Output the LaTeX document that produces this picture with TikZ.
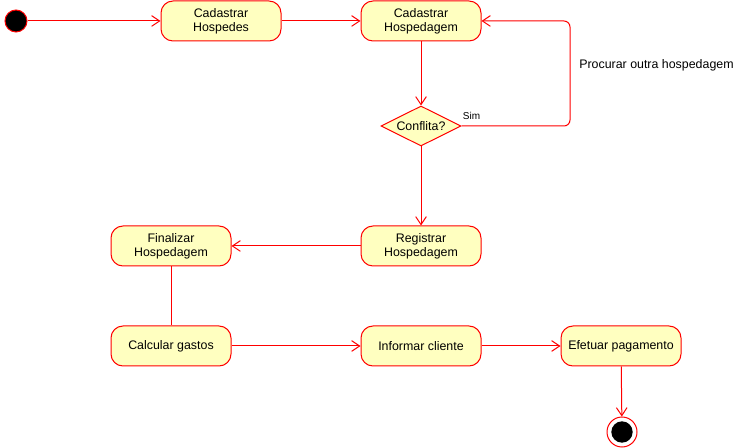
\documentclass[tikz,border=0pt]{standalone}
\usepackage{fontspec}
\setmainfont{Liberation Sans}
\usepackage{tikz}
\usetikzlibrary{positioning}
\usetikzlibrary{calc,arrows.meta,shapes.geometric}
\definecolor{ActFill}{HTML}{FFFFC0}
\definecolor{ActLine}{HTML}{FF0000}

\begin{document}
\begin{tikzpicture}[x=0.75pt,y=-0.75pt,
	activity/.style={draw=ActLine, fill=ActFill, line width=0.75pt, rounded corners=9pt,
		minimum width=90pt, minimum height=30pt, inner sep=0pt, align=center,
		font=\fontsize{9.3}{10.7}\selectfont},
	decision/.style={draw=ActLine, fill=ActFill, line width=0.75pt, diamond,
		minimum width=60pt, minimum height=30pt, inner sep=0pt, aspect=2,
		font=\fontsize{9.3}{10.7}\selectfont},
	flow/.style={draw=ActLine, line width=0.75pt, -{Straight Barb[length=6pt,width=8pt]}},
	link/.style={draw=ActLine, line width=0.75pt},
	]
	
	% page size of the reference, in pixels
	\useasboundingbox (0,0) rectangle (749,448);
	
	% start and end states
	\node[circle, draw=ActLine, fill=black, line width=0.75pt, minimum size=16.5pt, inner sep=0pt] (Start) at (16,21) {};
	\node[circle, draw=ActLine, fill=white, line width=0.75pt, minimum size=22.5pt, inner sep=0pt] (End) at (622,432) {};
	\node[circle, fill=black, minimum size=16pt, inner sep=0pt] (EndDot) at (End) {};
	
	% activities: centres in pixels
	\node[activity] (CadHospedes)   at (221,21)  {Cadastrar\\Hospedes};
	\node[activity] (CadHospedagem) at (421,21)  {Cadastrar\\Hospedagem};
	\node[decision] (Conflita)      at (421,126) {Conflita?};
	\node[activity] (Registrar)     at (421,246) {Registrar\\Hospedagem};
	\node[activity] (Finalizar)     at (171,246) {Finalizar\\Hospedagem};
	\node[activity] (Calcular)      at (171,346) {Calcular gastos};
	\node[activity] (Informar)      at (421,346) {Informar cliente};
	\node[activity] (Efetuar)       at (621,346) {Efetuar pagamento};
	
	% corner of the loop back
	\coordinate (Loop) at (570,21);
	
	\node[font=\fontsize{7.5}{9}\selectfont] (SimLabel) at ($(Conflita.east)+(10,-10)$) {Sim};
	\node[anchor=west, font=\fontsize{9.3}{10.7}\selectfont, inner sep=0pt] (LoopLabel) at (579,65) {Procurar outra hospedagem};
	
	%%%%%%%%%%%%%%%%%%%%%%%%%%%%%%%%%%%%%%%%%%%%%%%%%%%%%%%%%%%%%%
	\draw[flow] (Start) -- (CadHospedes);
	\draw[flow] (CadHospedes) -- (CadHospedagem);
	\draw[flow] (CadHospedagem) -- (Conflita);
	\draw[flow, rounded corners=4.5pt] (Conflita.east) -| (Loop) -- (CadHospedagem.east);
	\draw[flow] (Conflita) -- (Registrar);
	\draw[flow] (Registrar) -- (Finalizar);
	\draw[link] (Finalizar) -- (Calcular);
	\draw[flow] (Calcular) -- (Informar);
	\draw[flow] (Informar) -- (Efetuar);
	\draw[flow] (Efetuar) -- (End);
	
\end{tikzpicture}
\end{document}
